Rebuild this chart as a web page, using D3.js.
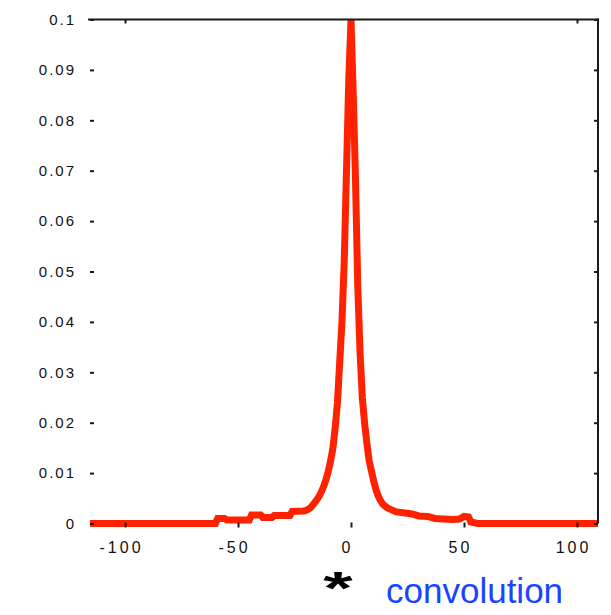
<!DOCTYPE html>
<html>
<head>
<meta charset="utf-8">
<script src="https://cdn.jsdelivr.net/npm/d3@7"></script>
<style>
  html, body { margin: 0; padding: 0; background: #fff; }
  svg { display: block; }
</style>
</head>
<body>
<svg id="chart" width="611" height="615"></svg>
<script>
// Convolution result: offset vs. density
const offsets = [
  -115.5, -60, -59, -56, -55, -45, -44, -40, -39, -35, -34, -27, -26, -21, -20,
  -19, -18, -17, -16, -15, -14, -13, -12, -11, -10, -9, -8, -7, -6, -5, -4, -3,
  -2, -1, 0, 1, 2, 3, 4, 5, 6, 7, 8, 9, 10, 11, 12, 13, 14, 16, 18, 20, 24, 27,
  30, 34, 37, 45, 48, 50, 52, 53, 56, 109.3
];
const density = [
  0, 0, 0.001, 0.001, 0.0007, 0.0007, 0.0017, 0.0017, 0.0012, 0.0012, 0.0016,
  0.0016, 0.0024, 0.0025, 0.0026,
  0.0028, 0.0031, 0.0036, 0.0042, 0.0048, 0.0055, 0.0064, 0.0075, 0.0088,
  0.0105, 0.0125, 0.015, 0.019, 0.024, 0.032, 0.040, 0.052,
  0.070, 0.088, 0.1, 0.085, 0.068, 0.047, 0.034, 0.025, 0.020, 0.016, 0.0125,
  0.0105, 0.0085, 0.0068, 0.0055, 0.0046, 0.0039, 0.0031, 0.0027, 0.0023,
  0.0021, 0.0019,
  0.0015, 0.0014, 0.0010, 0.0008, 0.0009, 0.0014, 0.0013, 0.0003, 0, 0
];

const xTicks = [-100, -50, 0, 50, 100];
const xTickLabels = ["-100", "-50", "0", "50", "100"];
const topTicks = [-100, 100];
const yTicks = [0, 0.01, 0.02, 0.03, 0.04, 0.05, 0.06, 0.07, 0.08, 0.09, 0.1];
const yTickLabels = ["0", "0.01", "0.02", "0.03", "0.04", "0.05", "0.06", "0.07", "0.08", "0.09", "0.1"];

const captionMark = "*";
const captionText = "convolution";

const svg = d3.select("#chart");

const x = d3.scaleLinear().domain([-115.5, 109.3]).range([90, 598]);
const y = d3.scaleLinear().domain([0, 0.1]).range([523.5, 19.5]);

const [x0, x1] = x.range();
const [yBottom, yTop] = y.range();

// clip so the curve stays inside the axes box
svg.append("defs").append("clipPath").attr("id", "plotClip")
  .append("rect")
  .attr("x", x0 - 4).attr("y", yTop)
  .attr("width", x1 - x0 + 8).attr("height", yBottom - yTop + 10);

const points = offsets.map((o, i) => [o, density[i]]);
const line = d3.line().x(d => x(d[0])).y(d => y(d[1]));

svg.append("path")
  .datum(points)
  .attr("clip-path", "url(#plotClip)")
  .attr("d", line)
  .attr("fill", "none")
  .attr("stroke", "#ff2200")
  .attr("stroke-width", 7)
  .attr("stroke-linejoin", "miter");

const axisColor = "#1a1a1a";
const labelFont = "'Liberation Sans', Arial, sans-serif";

// left axis: inward ticks, no spine
const yAxis = d3.axisLeft(y).tickValues(yTicks)
  .tickFormat((d, i) => yTickLabels[i])
  .tickSizeInner(-4).tickSizeOuter(0).tickPadding(14);
const gy = svg.append("g").attr("transform", `translate(${x0},0)`).call(yAxis);
gy.select(".domain").remove();
gy.selectAll(".tick line").attr("stroke", axisColor).attr("stroke-width", 2);
gy.selectAll(".tick text")
  .attr("font-family", labelFont).attr("font-size", 15)
  .attr("letter-spacing", 2).attr("fill", "#111");

// bottom axis: inward ticks, no spine
const xAxis = d3.axisBottom(x).tickValues(xTicks)
  .tickFormat((d, i) => xTickLabels[i])
  .tickSizeInner(-5).tickSizeOuter(0).tickPadding(14);
const gx = svg.append("g").attr("transform", `translate(0,${yBottom + 4})`).call(xAxis);
gx.select(".domain").remove();
gx.selectAll(".tick line").attr("stroke", axisColor).attr("stroke-width", 2);
gx.selectAll(".tick text")
  .attr("font-family", labelFont).attr("font-size", 16)
  .attr("letter-spacing", 3).attr("dx", -4).attr("fill", "#111");

// top and right box edges with inward ticks
const topAxis = d3.axisTop(x).tickValues(topTicks).tickFormat("")
  .tickSizeInner(-4).tickSizeOuter(0);
const gt = svg.append("g").attr("transform", `translate(0,${yTop})`).call(topAxis);
gt.select(".domain").remove();
gt.selectAll(".tick line").attr("stroke", axisColor).attr("stroke-width", 2);
svg.append("line")
  .attr("x1", x0 - 2).attr("x2", x1 + 1)
  .attr("y1", yTop).attr("y2", yTop)
  .attr("stroke", axisColor).attr("stroke-width", 2);

const rightAxis = d3.axisRight(y).tickValues(yTicks).tickFormat("")
  .tickSizeInner(-4).tickSizeOuter(0);
const gr = svg.append("g").attr("transform", `translate(${x1},0)`).call(rightAxis);
gr.select(".domain").remove();
gr.selectAll(".tick line").attr("stroke", axisColor).attr("stroke-width", 2);
svg.append("line")
  .attr("x1", x1).attr("x2", x1)
  .attr("y1", yTop - 1).attr("y2", yBottom)
  .attr("stroke", axisColor).attr("stroke-width", 2);

// caption below the axes: a wide bold asterisk, then the operation name
svg.append("text")
  .attr("transform", "translate(338,604) scale(1.3,0.8)")
  .attr("text-anchor", "middle")
  .attr("font-family", labelFont).attr("font-weight", "bold")
  .attr("font-size", 58).attr("fill", "#000")
  .text(captionMark);

svg.append("text")
  .attr("x", 386).attr("y", 603)
  .attr("font-family", labelFont)
  .attr("font-size", 35).attr("fill", "#1a44ff")
  .text(captionText);
</script>
</body>
</html>
